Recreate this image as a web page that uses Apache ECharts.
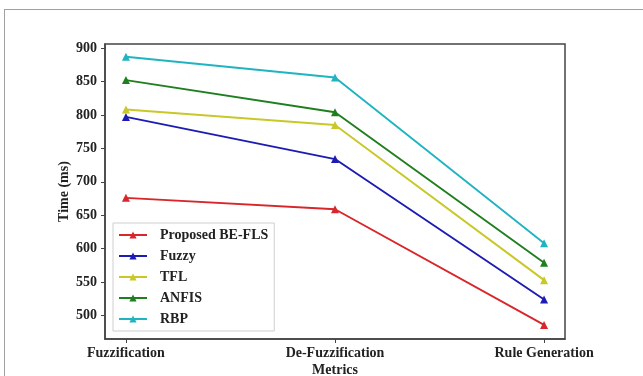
<!DOCTYPE html>
<html>
<head>
<meta charset="utf-8">
<script src="https://cdn.jsdelivr.net/npm/echarts@6/dist/echarts.min.js"></script>
<style>
  html, body { margin: 0; padding: 0; background: #fff; }
  #wrap { position: relative; width: 643px; height: 376px; overflow: hidden; }
  #frame { position: absolute; left: 4px; top: 9px; width: 700px; height: 500px;
           border-left: 1.5px solid #a0a0a0; border-top: 1.5px solid #a0a0a0; }
  #chart { position: absolute; left: 0; top: 0; width: 643px; height: 376px; }
</style>
</head>
<body>
<div id="wrap">
  <div id="frame"></div>
  <div id="chart"></div>
</div>
<script>
const categories = ['Fuzzification', 'De-Fuzzification', 'Rule Generation'];
const seriesNames = ['Proposed BE-FLS', 'Fuzzy', 'TFL', 'ANFIS', 'RBP'];
const proposed = [676, 659, 486];
const fuzzy = [797, 734, 524];
const tfl = [808, 785, 553];
const anfis = [852, 804, 579];
const rbp = [887, 856, 608];
const yTicks = [500, 550, 600, 650, 700, 750, 800, 850, 900];
const colors = ['#d8262a', '#1c1cb4', '#c8c828', '#1f7f1f', '#20b4c0'];

const allValues = [proposed, fuzzy, tfl, anfis, rbp];
const xIdx = categories.map((c, i) => i);
const font = 'Liberation Serif';

const chart = echarts.init(document.getElementById('chart'), null, { renderer: 'canvas' });
chart.setOption({
  animation: false,
  backgroundColor: 'transparent',
  grid: { left: 105, right: 78, top: 44, bottom: 37, show: true, borderColor: '#444', borderWidth: 1.5,
          containLabel: false, outerBoundsMode: 'none' },
  xAxis: {
    type: 'value', min: -0.1, max: 2.1,
    name: 'Metrics', nameLocation: 'middle', nameGap: 24, nameMoveOverlap: false,
    nameTextStyle: { fontFamily: font, fontWeight: 'bold', fontSize: 14, color: '#222' },
    axisLine: { show: true, onZero: false, lineStyle: { color: '#444', width: 1.5 } },
    axisTick: { show: true, length: 4, customValues: xIdx, lineStyle: { color: '#444' } },
    axisLabel: { customValues: xIdx, margin: 7, fontFamily: font, fontWeight: 'bold', fontSize: 14, color: '#222',
      formatter: v => categories[Math.round(v)] },
    splitLine: { show: false }
  },
  yAxis: {
    type: 'value', min: 465, max: 906,
    name: 'Time (ms)', nameLocation: 'middle', nameGap: 34, nameMoveOverlap: false,
    nameTextStyle: { fontFamily: font, fontWeight: 'bold', fontSize: 14, color: '#222' },
    axisLine: { show: true, onZero: false, lineStyle: { color: '#444', width: 1.5 } },
    axisTick: { show: true, length: 4, customValues: yTicks, lineStyle: { color: '#444' } },
    axisLabel: { customValues: yTicks, margin: 8, fontFamily: font, fontWeight: 'bold', fontSize: 14, color: '#222' },
    splitLine: { show: false }
  },
  legend: {
    orient: 'vertical', left: 113, top: 223,
    data: seriesNames,
    itemWidth: 28, itemHeight: 9, itemGap: 7,
    padding: [5, 6, 5, 5],
    borderColor: '#cfcfcf', borderWidth: 1,
    textStyle: { fontFamily: font, fontWeight: 'bold', fontSize: 14, color: '#222', padding: [0, 0, 0, 8] }
  },
  series: seriesNames.map((n, k) => ({
    name: n, type: 'line',
    data: allValues[k].map((v, i) => [xIdx[i], v]),
    symbol: 'triangle', symbolSize: 8,
    lineStyle: { color: colors[k], width: 1.9 },
    itemStyle: { color: colors[k] },
    z: 2 + k
  }))
});
</script>
</body>
</html>
